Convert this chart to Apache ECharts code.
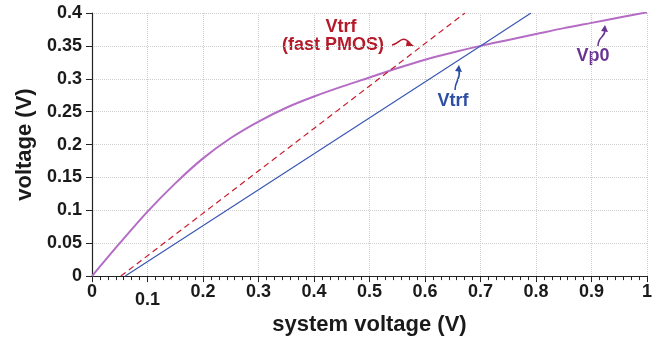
<!DOCTYPE html>
<html><head><meta charset="utf-8">
<script src="https://cdn.jsdelivr.net/npm/echarts@6/dist/echarts.min.js"></script>
<style>html,body{margin:0;padding:0;background:#fff}#c{width:664px;height:341px}</style>
</head><body><div id="c"></div>
<script>
const xTicks = [0,0.1,0.2,0.3,0.4,0.5,0.6,0.7,0.8,0.9,1];
const vp0X = [0,0.05,0.1,0.15,0.2,0.25,0.3,0.35,0.4,0.45,0.5,0.55,0.6,0.65,0.7,0.75,0.8,0.85,0.9,0.95,1];
const vp0Y = [0,0.050,0.098,0.141,0.179,0.210,0.235,0.256,0.273,0.288,0.302,0.316,0.329,0.340,0.350,0.359,0.368,0.377,0.385,0.393,0.401];
const vtrfX = [0.06,0.70,0.791];
const vtrfY = [0,0.35,0.4];
const fastX = [0.052,0.672];
const fastY = [0,0.4];

const zip = (a,b)=>a.map((v,i)=>[v,b[i]]);
const font = 'Liberation Sans, Arial, sans-serif';
const chart = echarts.init(document.getElementById('c'));

function arrow(points, color, head){
  return [{
    type:'bezierCurve', silent:true,
    shape:{x1:points[0][0],y1:points[0][1],cpx1:points[1][0],cpy1:points[1][1],cpx2:points[2][0],cpy2:points[2][1],x2:points[3][0],y2:points[3][1]},
    style:{stroke:color,lineWidth:1.6,fill:null}
  },{
    type:'polygon', silent:true, shape:{points:head}, style:{fill:color}
  }];
}

chart.setOption({
  animation:false,
  grid:{left:92,right:17,top:13,bottom:59},
  xAxis:{
    type:'value',min:0,max:1,interval:0.1,
    name:'system voltage (V)',nameLocation:'middle',nameGap:34,
    nameTextStyle:{fontFamily:font,fontWeight:'bold',fontSize:22,color:'#1a1a1a'},
    axisLine:{show:true,onZero:false,lineStyle:{color:'#222',width:1.2}},
    axisTick:{show:true,length:6,lineStyle:{color:'#222'}},
    minorTick:{show:true,splitNumber:7,length:4,lineStyle:{color:'#222'}},
    axisLabel:{fontFamily:font,fontWeight:'bold',fontSize:18,color:'#1a1a1a',margin:7,
      formatter:function(v){ var s = String(Math.round(v*10)/10); return Math.abs(v-0.1)<1e-6 ? '{low|'+s+'}' : s; },
      rich:{low:{fontFamily:font,fontWeight:'bold',fontSize:18,color:'#1a1a1a',padding:[8,0,0,0]}}},
    splitLine:{show:true,lineStyle:{color:'#cfcfcf',type:'dotted',width:1}}
  },
  yAxis:{
    type:'value',min:0,max:0.4,interval:0.05,
    name:'voltage (V)',nameLocation:'middle',nameGap:56,nameRotate:90,
    nameTextStyle:{fontFamily:font,fontWeight:'bold',fontSize:22,color:'#1a1a1a'},
    axisLine:{show:true,onZero:false,lineStyle:{color:'#222',width:1.2}},
    axisTick:{show:true,length:6,lineStyle:{color:'#222'}},
    axisLabel:{fontFamily:font,fontWeight:'bold',fontSize:18,color:'#1a1a1a',margin:10,
      formatter:function(v){ return String(Math.round(v*100)/100); }},
    splitLine:{show:true,lineStyle:{color:'#cfcfcf',type:'dotted',width:1}}
  },
  series:[
    {type:'line',name:'Vp0',data:zip(vp0X,vp0Y),smooth:0.3,showSymbol:false,
      lineStyle:{color:'#b46cc4',width:2}},
    {type:'line',name:'Vtrf',data:zip(vtrfX,vtrfY),showSymbol:false,
      lineStyle:{color:'#3a58b4',width:1.2}},
    {type:'line',name:'Vtrf (fast PMOS)',data:zip(fastX,fastY),showSymbol:false,
      lineStyle:{color:'#c81c2c',width:1.2,type:[6,4]}}
  ],
  graphic:[
    {type:'text',x:341,y:27,style:{text:'Vtrf',font:'bold 18px '+font,fill:'#b51a2a',align:'center',verticalAlign:'middle'}},
    {type:'text',x:333,y:45,style:{text:'(fast PMOS)',font:'bold 18px '+font,fill:'#b51a2a',align:'center',verticalAlign:'middle'}},
    {type:'text',x:453,y:101,style:{text:'Vtrf',font:'bold 18px '+font,fill:'#2d4ea6',align:'center',verticalAlign:'middle'}},
    {type:'text',x:593,y:56,style:{text:'Vp0',font:'bold 18px '+font,fill:'#6a3592',align:'center',verticalAlign:'middle'}}
  ]
  .concat(arrow([[392,45],[400,44],[401,34],[410,43]],'#b51a2a',[[407,40],[414,46],[406,46]]))
  .concat(arrow([[455,90],[455,80],[461,80],[459,70]],'#2d4ea6',[[455,71],[459,65],[462,72]]))
  .concat(arrow([[598,46],[598,36],[605,38],[605,30]],'#6a3592',[[601,31],[605,25],[608,32]]))
});
</script></body></html>
